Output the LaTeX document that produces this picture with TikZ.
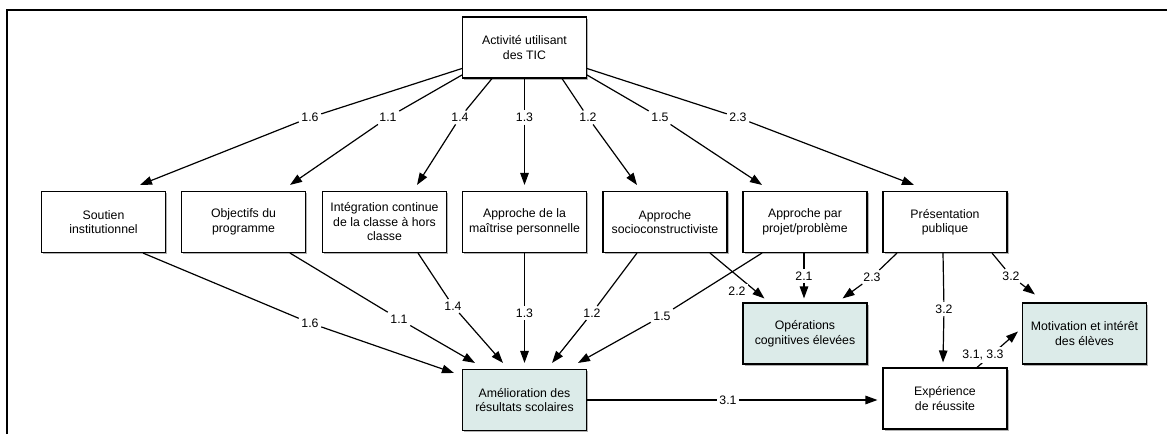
\documentclass[tikz,border=0pt]{standalone}
\usepackage{fontspec}
\setmainfont{Liberation Sans}
\usetikzlibrary{arrows.meta,calc,shadows}
\definecolor{boxteal}{RGB}{220,235,233}
\begin{document}
\begin{tikzpicture}[x=1pt,y=-1pt,
 box/.style={draw=black, line width=1.1pt, fill=white, minimum width=124pt, minimum height=61pt, inner sep=1pt, align=center, font=\fontsize{12.3}{14.5}\selectfont, text=black, drop shadow={shadow xshift=1.5pt,shadow yshift=-1.5pt,opacity=0.3,fill=black}},
 hbox/.style={box, fill=boxteal},
 lbl/.style={inner sep=2.5pt, font=\fontsize{12.3}{14}\selectfont, text=black},
 wlbl/.style={lbl, fill=white},
 arr/.style={line width=1.2pt, draw=black, -{Triangle[length=12pt,width=8.5pt]}},
]
\useasboundingbox (0,0) rectangle (1167,434);
\draw[line width=2pt] (7,434) -- (7,10) -- (1167,10);

% nodes
\node[box] (top) at (524.5,47.5) {Activité utilisant\\des TIC};
\node[box] (soutien) at (103.5,222) {Soutien\\institutionnel};
\node[box] (objectifs) at (243.5,222) {Objectifs du\\programme};
\node[box] (integ) at (384.5,222) {Intégration continue\\de la classe à hors\\classe};
\node[box] (maitrise) at (524.5,222) {Approche de la\\maîtrise personnelle};
\node[box] (socio) at (665,222) {Approche\\socioconstructiviste};
\node[box] (projet) at (805,222) {Approche par\\projet/problème};
\node[box] (present) at (945,222) {Présentation\\publique};
\node[hbox] (operations) at (805,333.5) {Opérations\\cognitives élevées};
\node[hbox] (motivation) at (1084.5,333.5) {Motivation et intérêt\\des élèves};
\node[hbox] (amelio) at (524.5,400) {Amélioration des\\résultats scolaires};
\node[box] (experience) at (945,398.5) {Expérience\\de réussite};

% labels, upper row
\node[lbl] (a16) at (310,117.5) {1.6};
\node[lbl] (a11) at (388,117.5) {1.1};
\node[lbl] (a14) at (460,117.5) {1.4};
\node[lbl] (a13) at (524.5,117.5) {1.3};
\node[lbl] (a12) at (588,117.5) {1.2};
\node[lbl] (a15) at (660,117.5) {1.5};
\node[lbl] (a23) at (738,117.5) {2.3};

\draw[arr] ($(top.west)+(0,21)$) -- (a16) -- ($(soutien.north)+(36.5,-6)$);
\draw[arr] ($(top.west)+(0,27.5)$) -- (a11) -- ($(objectifs.north)+(46.5,-6)$);
\draw[arr] ($(top.south)+(-32.5,0)$) -- (a14) -- ($(integ.north)+(32.5,-6)$);
\draw[arr] (top.south) -- (a13) -- ($(maitrise.north)+(0,-6)$);
\draw[arr] ($(top.south)+(37.5,0)$) -- (a12) -- ($(socio.north)+(-28,-6)$);
\draw[arr] ($(top.east)+(0,27.5)$) -- (a15) -- ($(projet.north)+(-43,-6)$);
\draw[arr] ($(top.east)+(0,21)$) -- (a23) -- ($(present.north)+(-31,-6)$);

% labels, lower part
\node[lbl] (b16) at (310,323) {1.6};
\node[lbl] (b11) at (399,319) {1.1};
\node[lbl] (b14) at (453,306) {1.4};
\node[lbl] (b13) at (524.5,313) {1.3};
\node[lbl] (b12) at (592,313) {1.2};
\node[lbl] (b15) at (662,316) {1.5};
\node[lbl] (b21) at (804,276) {2.1};
\node[lbl] (b23) at (872,277) {2.3};
\node[lbl] (b32) at (944,309) {3.2};
\node[lbl] (b32r) at (1011,276) {3.2};
\node[lbl] (b31) at (728,400) {3.1};

\draw[arr] ($(soutien.south)+(39.5,0)$) -- (b16) -- ($(amelio.north west)+(-8,4)$);
\draw[arr] ($(objectifs.south)+(46.5,0)$) -- (b11) -- ($(amelio.north)+(-49.5,-6)$);
\draw[arr] ($(integ.south)+(33.5,0)$) -- (b14) -- ($(amelio.north)+(-21.5,-6)$);
\draw[arr] (maitrise.south) -- (b13) -- ($(amelio.north)+(0,-6)$);
\draw[arr] ($(socio.south)+(-28,0)$) -- (b12) -- ($(amelio.north)+(27.5,-6)$);
\draw[arr] ($(projet.south)+(-43,0)$) -- (b15) -- ($(amelio.north)+(53.5,-6)$);
\draw[arr] ($(projet.south)+(-1,0)$) -- (b21) -- ($(operations.north)+(-1,-4)$);
\draw[arr] ($(present.south)+(-48,0)$) -- (b23) -- ($(operations.north east)+(-25,-4)$);
\draw[arr] ($(present.south)+(-2,0)$) -- (b32) -- ($(experience.north)+(-2,-5)$);
\draw[arr] ($(present.south)+(47,0)$) -- (b32r) -- ($(motivation.north west)+(13,-8)$);
\draw[arr] (amelio.east) -- (b31) -- ($(experience.west)+(-5,1.5)$);

\draw[arr] ($(socio.south)+(45,0)$) -- ($(operations.north west)+(22,-4)$);
\node[wlbl] (b22) at (737,291) {2.2};
\draw[arr] ($(experience.north)+(32,0)$) -- ($(motivation.west)+(-4,-2)$);
\node[wlbl] (b3133) at (983,355) {3.1, 3.3};
\end{tikzpicture}
\end{document}
